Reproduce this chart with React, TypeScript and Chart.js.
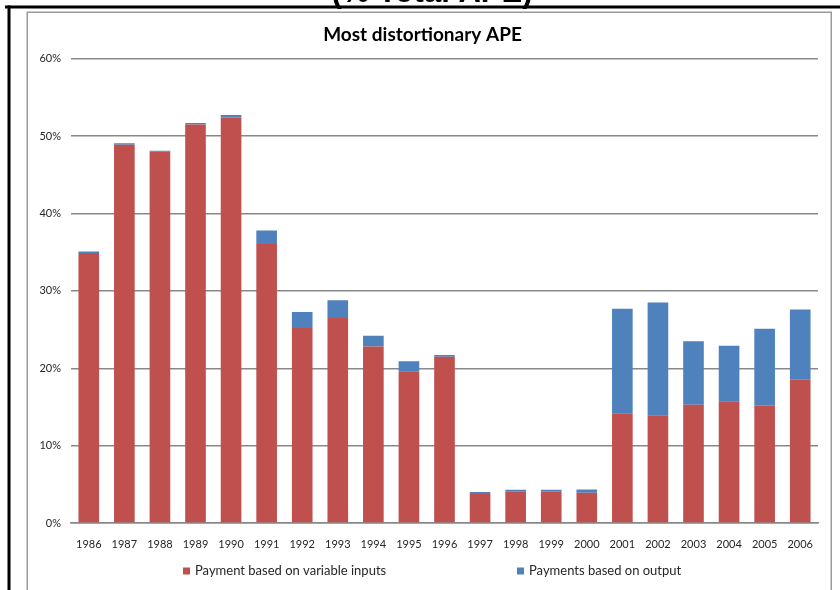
import { useEffect, useRef } from 'react';
import { Chart, registerables } from 'chart.js';

Chart.register(...registerables);

const superTitle = '(% Total APE)';
const chartTitle = 'Most distortionary APE';
const years = ['1986', '1987', '1988', '1989', '1990', '1991', '1992', '1993', '1994', '1995', '1996', '1997', '1998', '1999', '2000', '2001', '2002', '2003', '2004', '2005', '2006'];
const variableInputs = [34.9, 48.9, 48.0, 51.5, 52.4, 36.05, 25.2, 26.5, 22.8, 19.6, 21.5, 3.75, 4.05, 4.05, 3.92, 14.2, 13.93, 15.27, 15.74, 15.17, 18.5];
const outputPayments = [0.2, 0.2, 0.1, 0.2, 0.35, 1.75, 2.06, 2.28, 1.4, 1.3, 0.2, 0.25, 0.26, 0.26, 0.4, 13.5, 14.57, 8.23, 7.16, 9.93, 9.1];
const seriesNames = ['Payment based on variable inputs', 'Payments based on output'];
const seriesColors = ['#C0504D', '#4F81BD'];
const yMax = 60;
const yStep = 10;

export default function App() {
  const ref = useRef<HTMLCanvasElement>(null);
  useEffect(() => {
    if (!ref.current) return;
    const deco = {
      id: 'deco',
      beforeDraw(chart: any) {
        const ctx = chart.ctx;
        ctx.save();
        ctx.fillStyle = '#ffffff';
        ctx.fillRect(0, 0, chart.width, chart.height);
        ctx.font = 'bold 31px "Liberation Sans", Arial, sans-serif';
        ctx.fillStyle = '#000';
        ctx.textAlign = 'center';
        ctx.textBaseline = 'alphabetic';
        ctx.fillText(superTitle, 432, 2);
        ctx.strokeStyle = '#9a9a9a';
        ctx.lineWidth = 1.5;
        ctx.strokeRect(27.25, 12.25, 831 - 27, 620);
        ctx.fillStyle = '#000';
        ctx.fillRect(5, 5.5, 835, 3);
        ctx.fillRect(7.5, 5.5, 3, 585);
        ctx.restore();
      },
    };
    const legendPlugin = {
      id: 'customLegend',
      afterDraw(chart: any) {
        const ctx = chart.ctx;
        const xs = [183, 517];
        const y = 571;
        ctx.save();
        ctx.font = '13px Lato, sans-serif';
        ctx.textBaseline = 'middle';
        ctx.textAlign = 'left';
        chart.data.datasets.forEach((ds: any, i: number) => {
          ctx.fillStyle = ds.backgroundColor;
          ctx.fillRect(xs[i], y - 3.5, 7, 7);
          ctx.fillStyle = '#262626';
          ctx.fillText(ds.label, xs[i] + 12, y);
        });
        ctx.restore();
      },
    };
    const chart = new Chart(ref.current, {
      type: 'bar',
      data: {
        labels: years,
        datasets: [
          { label: seriesNames[0], data: variableInputs, backgroundColor: seriesColors[0], barPercentage: 0.58, categoryPercentage: 1 },
          { label: seriesNames[1], data: outputPayments, backgroundColor: seriesColors[1], barPercentage: 0.58, categoryPercentage: 1 },
        ],
      },
      options: {
        responsive: false,
        animation: false,
        layout: { padding: { left: 27, right: 22, top: 12, bottom: 0 } },
        plugins: {
          legend: { display: false },
          tooltip: { enabled: false },
          title: {
            display: true,
            text: chartTitle,
            color: '#000',
            font: { family: 'Lato', size: 19, weight: 'bold' },
            lineHeight: 1.2,
            padding: { top: 11, bottom: 13 },
          },
        },
        scales: {
          x: {
            stacked: true,
            grid: { display: false, drawTicks: false },
            border: { display: true, color: '#888', width: 1.5 },
            ticks: { color: '#262626', font: { family: 'Lato', size: 11 }, padding: 15, maxRotation: 0, autoSkip: false },
            afterFit: (s: any) => { s.height = 67; },
          },
          y: {
            stacked: true,
            min: 0,
            max: yMax,
            grid: { color: '#888', lineWidth: 1.5, drawTicks: false },
            border: { display: false },
            ticks: { stepSize: yStep, color: '#262626', font: { family: 'Lato', size: 11 }, padding: 10, callback: (v: any) => v + '%' },
            afterFit: (s: any) => { s.width = 44; },
          },
        },
      },
      plugins: [deco, legendPlugin],
    });
    return () => chart.destroy();
  }, []);
  return (
    <div style={{ position: 'fixed', left: 0, top: 0, width: 840, height: 590, background: '#fff' }}>
      <canvas ref={ref} width={840} height={590} style={{ display: 'block' }} />
    </div>
  );
}
